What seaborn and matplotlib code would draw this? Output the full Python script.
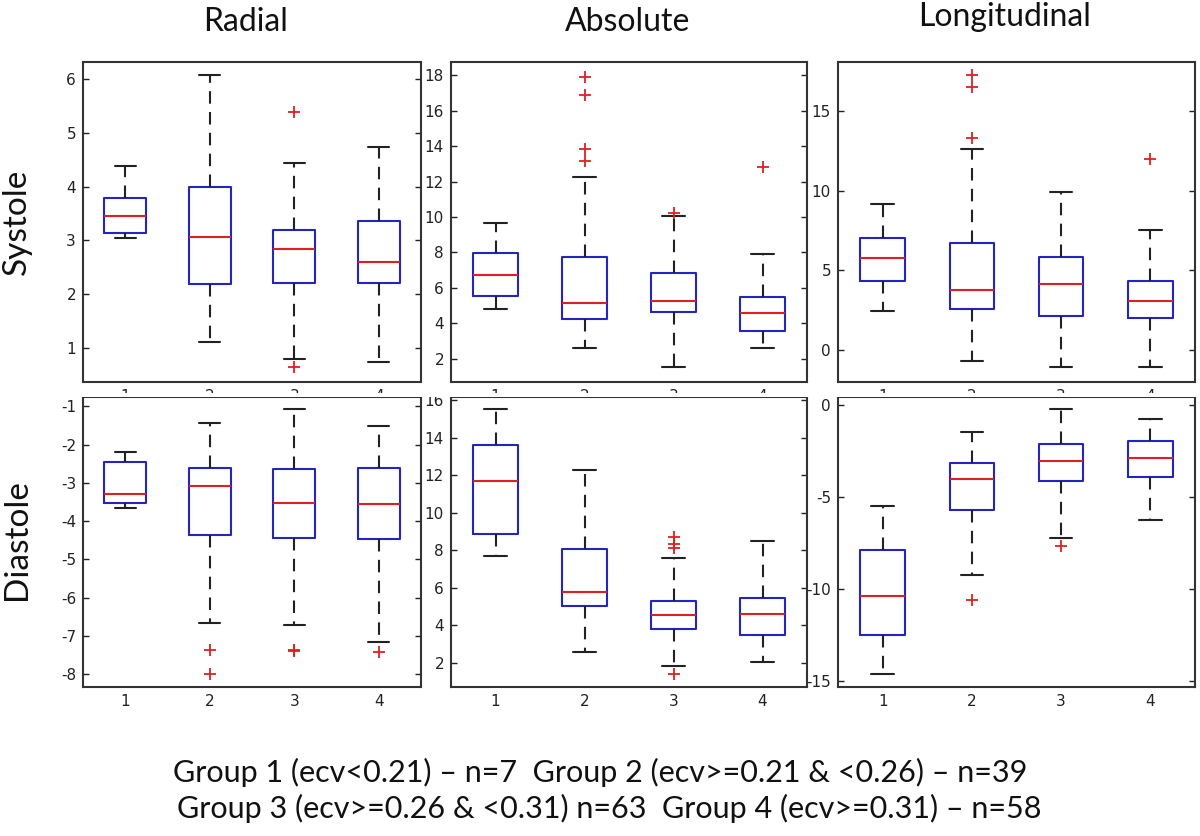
import matplotlib
matplotlib.use("Agg")
import matplotlib.pyplot as plt
import seaborn as sns
from matplotlib.patches import Rectangle

# ---------------- data ----------------
groups = ["1", "2", "3", "4"]
column_titles = ["Radial", "Absolute", "Longitudinal"]
row_titles = ["Systole", "Diastole"]
footnote_1 = "Group 1 (ecv<0.21) – n=7  Group 2 (ecv>=0.21 & <0.26) – n=39"
footnote_2 = "Group 3 (ecv>=0.26 & <0.31) n=63  Group 4 (ecv>=0.31) – n=58"

# Radial / Systole
rad_sys_lo = [3.04, 1.11, 0.78, 0.73]
rad_sys_q1 = [3.14, 2.19, 2.21, 2.21]
rad_sys_med = [3.45, 3.06, 2.84, 2.60]
rad_sys_q3 = [3.78, 3.99, 3.19, 3.35]
rad_sys_hi = [4.39, 6.07, 4.43, 4.74]
rad_sys_out = [[], [], [5.39, 0.64], []]

# Absolute / Systole
abs_sys_lo = [4.79, 2.62, 1.53, 2.62]
abs_sys_q1 = [5.53, 4.25, 4.66, 3.57]
abs_sys_med = [6.70, 5.13, 5.26, 4.58]
abs_sys_q3 = [7.98, 7.72, 6.81, 5.47]
abs_sys_hi = [9.68, 12.23, 10.04, 7.92]
abs_sys_out = [[], [17.9, 16.9, 13.85, 13.15], [10.2], [12.8]]

# Longitudinal / Systole
lon_sys_lo = [2.45, -0.71, -1.09, -1.09]
lon_sys_q1 = [4.29, 2.53, 2.14, 2.01]
lon_sys_med = [5.78, 3.75, 4.11, 3.06]
lon_sys_q3 = [7.04, 6.68, 5.84, 4.34]
lon_sys_hi = [9.15, 12.59, 9.93, 7.52]
lon_sys_out = [[], [17.24, 16.51, 13.30], [], [11.96]]

# Radial / Diastole
rad_dia_lo = [-3.65, -6.67, -6.71, -7.15]
rad_dia_q1 = [-3.54, -4.37, -4.43, -4.46]
rad_dia_med = [-3.29, -3.07, -3.52, -3.55]
rad_dia_q3 = [-2.45, -2.60, -2.64, -2.60]
rad_dia_hi = [-2.19, -1.44, -1.06, -1.51]
rad_dia_out = [[], [-7.38, -8.0], [-7.37, -7.40], [-7.42]]

# Absolute / Diastole
abs_dia_lo = [7.72, 2.59, 1.82, 2.05]
abs_dia_q1 = [8.88, 5.03, 3.80, 3.50]
abs_dia_med = [11.71, 5.79, 4.56, 4.62]
abs_dia_q3 = [13.61, 8.09, 5.33, 5.47]
abs_dia_hi = [15.55, 12.28, 7.59, 8.50]
abs_dia_out = [[], [], [8.71, 8.32, 8.11, 1.41], []]

# Longitudinal / Diastole
lon_dia_lo = [-14.60, -9.22, -7.19, -6.21]
lon_dia_q1 = [-12.47, -5.68, -4.10, -3.90]
lon_dia_med = [-10.39, -3.98, -3.05, -2.85]
lon_dia_q3 = [-7.84, -3.14, -2.09, -1.96]
lon_dia_hi = [-5.50, -1.43, -0.18, -0.74]
lon_dia_out = [[], [-10.60], [-7.66], []]

panels = [
    [(rad_sys_lo, rad_sys_q1, rad_sys_med, rad_sys_q3, rad_sys_hi, rad_sys_out),
     (abs_sys_lo, abs_sys_q1, abs_sys_med, abs_sys_q3, abs_sys_hi, abs_sys_out),
     (lon_sys_lo, lon_sys_q1, lon_sys_med, lon_sys_q3, lon_sys_hi, lon_sys_out)],
    [(rad_dia_lo, rad_dia_q1, rad_dia_med, rad_dia_q3, rad_dia_hi, rad_dia_out),
     (abs_dia_lo, abs_dia_q1, abs_dia_med, abs_dia_q3, abs_dia_hi, abs_dia_out),
     (lon_dia_lo, lon_dia_q1, lon_dia_med, lon_dia_q3, lon_dia_hi, lon_dia_out)],
]

y_limits = [[(0.36, 6.32), (0.68, 18.75), (-2.03, 18.08)],
            [(-8.34, -0.755), (0.72, 16.18), (-15.31, 0.45)]]
y_ticks = [[list(range(1, 7)), list(range(2, 19, 2)), [0, 5, 10, 15]],
           [list(range(-8, 0)), list(range(2, 17, 2)), [-15, -10, -5, 0]]]

# ---------------- style ----------------
sns.set_theme(style="white")
plt.rcParams["font.family"] = ["DejaVu Sans"]

W, H = 1200, 836
fig = plt.figure(figsize=(W / 100, H / 100), dpi=100)
fig.patch.set_facecolor("white")

col_px = [(83, 421), (451, 807), (838, 1195)]
row_px = [(62, 382), (397, 687)]

BLUE = "#2424c0"
RED = "#e02020"

axes = []
for r in range(2):
    for c in range(3):
        x0, x1 = col_px[c]
        y0, y1 = row_px[r]
        ax = fig.add_axes([x0 / W, (H - y1) / H, (x1 - x0) / W, (y1 - y0) / H])
        lo, q1, med, q3, hi, out = panels[r][c]
        stats = []
        for i in range(len(groups)):
            stats.append(dict(whislo=lo[i], q1=q1[i], med=med[i], q3=q3[i],
                              whishi=hi[i], fliers=out[i], label=groups[i]))
        ax.bxp(stats, positions=[1, 2, 3, 4], widths=0.5, showfliers=True,
               boxprops=dict(color=BLUE, linewidth=1.5),
               medianprops=dict(color=RED, linewidth=1.5),
               whiskerprops=dict(color="#222222", linewidth=1.5, linestyle=(0, (6, 4))),
               capprops=dict(color="#222222", linewidth=1.5),
               flierprops=dict(marker="+", markeredgecolor=RED, markersize=8,
                               markeredgewidth=1.3, linestyle="none"),
               capwidths=0.25)
        ax.set_xlim(0.5, 4.5)
        ax.set_ylim(*y_limits[r][c])
        ax.set_yticks(y_ticks[r][c])
        ax.set_yticklabels([str(t) for t in y_ticks[r][c]])
        ax.set_xticks([1, 2, 3, 4])
        ax.set_xticklabels(groups)
        ax.tick_params(axis="y", direction="in", length=4, width=1.0, left=True,
                       right=True, labelsize=11, pad=5, colors="#222222")
        ax.tick_params(axis="x", length=0, labelsize=11, pad=5, colors="#222222")
        for s in ax.spines.values():
            s.set_color("#333333")
            s.set_linewidth(1.5)
        ax.set_facecolor("white")
        axes.append(ax)

# the bottom row hides the lower part of the top row's group labels
fig.add_artist(Rectangle((0, (H - 397) / H), 1, 4 / H, transform=fig.transFigure,
                         facecolor="white", edgecolor="none", zorder=5))

title_font = ["Lato", "DejaVu Sans"]
title_x = [246, 628, 1005]
title_y = [22, 22, 17]
for c in range(3):
    fig.text(title_x[c] / W, 1 - title_y[c] / H, column_titles[c], ha="center", va="center",
             fontsize=23, family=title_font, color="#111111")

row_y = [222, 540]
for r in range(2):
    fig.text(17 / W, 1 - row_y[r] / H, row_titles[r], rotation=90, ha="center", va="center",
             fontsize=24, family=title_font, color="#111111")

fig.text(600 / W, 1 - 772 / H, footnote_1, ha="center", va="center", fontsize=22,
         family=title_font, color="#111111")
fig.text(609 / W, 1 - 808 / H, footnote_2, ha="center", va="center", fontsize=22,
         family=title_font, color="#111111")

fig.savefig("out.png", dpi=100, facecolor="white")
